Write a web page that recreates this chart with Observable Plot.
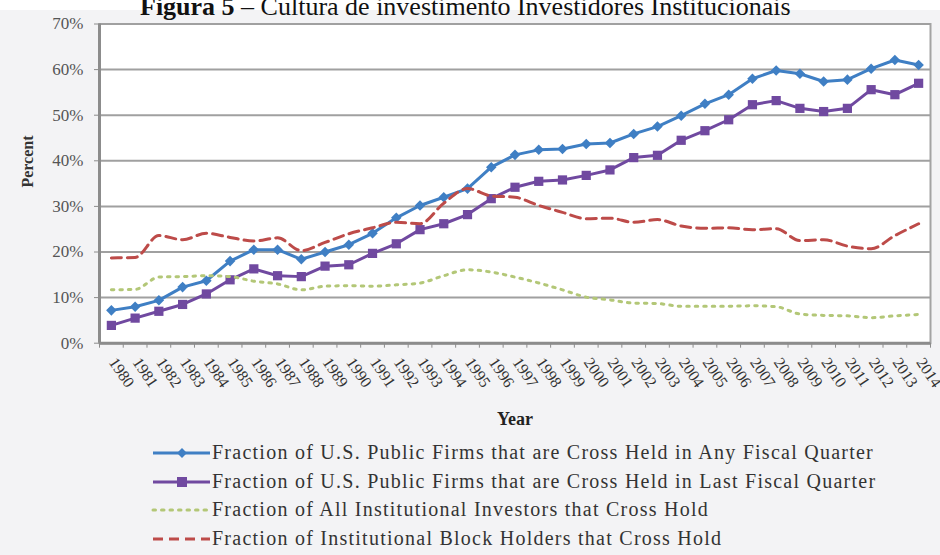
<!DOCTYPE html>
<html>
<head>
<meta charset="utf-8">
<script src="https://cdn.jsdelivr.net/npm/d3@7"></script>
<script src="https://cdn.jsdelivr.net/npm/@observablehq/plot@0.6"></script>
<style>
  html, body { margin: 0; padding: 0; }
  body { width: 940px; height: 555px; position: relative; overflow: hidden; background: #ffffff; font-family: "Liberation Serif", "Times New Roman", serif; }
  #bg { position: absolute; left: 0; top: 10px; width: 940px; height: 545px; background: #f3f3f5; }
  #title { position: absolute; left: 140px; top: -6px; font-size: 26px; line-height: 26px; color: #111; white-space: nowrap; }
  #chart { position: absolute; left: 0; top: 0; }
  #legend { position: absolute; left: 0; top: 439px; width: 940px; }
  .row { position: relative; height: 28.5px; }
  .row svg { position: absolute; left: 150px; top: 4px; }
  .row span { position: absolute; left: 212px; top: 1px; font-size: 20px; line-height: 24px; letter-spacing: 1.25px; color: #333; white-space: nowrap; }
</style>
</head>
<body>
<div id="bg"></div>
<div id="title"><b>Figura 5</b> – Cultura de investimento Investidores Institucionais</div>
<div id="chart"></div>
<div id="legend"></div>
<script>
// ---- Data (percent) ----
const years = [1980,1981,1982,1983,1984,1985,1986,1987,1988,1989,1990,1991,1992,1993,1994,1995,1996,1997,1998,1999,2000,2001,2002,2003,2004,2005,2006,2007,2008,2009,2010,2011,2012,2013,2014];
const anyQuarter = [7.2,8.0,9.4,12.3,13.7,18.0,20.5,20.5,18.4,20.0,21.6,24.1,27.5,30.2,32.0,33.9,38.6,41.3,42.4,42.6,43.7,43.9,45.9,47.5,49.9,52.5,54.5,58.0,59.8,59.1,57.4,57.8,60.2,62.1,61.0];
const lastQuarter = [3.9,5.5,7.0,8.5,10.8,13.9,16.3,14.8,14.6,16.9,17.2,19.7,21.8,24.9,26.2,28.2,31.7,34.2,35.5,35.8,36.8,38.0,40.7,41.2,44.5,46.6,49.0,52.3,53.2,51.5,50.8,51.5,55.6,54.5,57.0];
const allInvestors = [11.7,11.8,14.5,14.6,14.8,14.6,13.6,13.0,11.7,12.5,12.6,12.5,12.8,13.2,14.8,16.1,15.6,14.5,13.2,11.7,10.1,9.5,8.8,8.7,8.1,8.1,8.1,8.2,8.0,6.4,6.1,6.0,5.6,6.0,6.3];
const blockHolders = [18.7,18.8,23.6,22.7,24.1,23.2,22.4,23.1,20.3,22.1,24.0,25.3,26.5,26.2,30.7,33.9,32.3,32.0,30.2,28.7,27.3,27.4,26.5,27.1,25.7,25.2,25.3,24.9,25.1,22.5,22.7,21.3,20.7,23.6,26.2];
const yTicks = [0,10,20,30,40,50,60,70];
const seriesNames = [
  "Fraction of U.S. Public Firms that are Cross Held in Any Fiscal Quarter",
  "Fraction of U.S. Public Firms that are Cross Held in Last Fiscal Quarter",
  "Fraction of All Institutional Investors that Cross Hold",
  "Fraction of Institutional Block Holders that Cross Hold"
];
const colors = ["#3f7fc4", "#7049a0", "#b3c777", "#bd4b49"];

const toRows = (vals) => years.map((y, i) => ({year: y, v: vals[i]}));
const dAny = toRows(anyQuarter), dLast = toRows(lastQuarter), dAll = toRows(allInvestors), dBlock = toRows(blockHolders);
const bounds = [years[0] - 0.5, ...years.map(y => y + 0.5)];

const chart = Plot.plot({
  width: 940,
  height: 430,
  marginLeft: 99,
  marginRight: 10,
  marginTop: 23.5,
  marginBottom: 87.3,
  style: {background: "transparent", fontFamily: "Liberation Serif, Times New Roman, serif", fontSize: "17px", color: "#444"},
  x: {type: "linear", domain: [years[0] - 0.5, years[years.length - 1] + 0.5], axis: null},
  y: {domain: [0, 70], axis: null},
  marks: [
    Plot.frame({fill: "white", stroke: "#a3a3a3", strokeWidth: 2}),
    Plot.gridY(yTicks, {stroke: "#a0a0a0", strokeWidth: 2, strokeOpacity: 1}),
    Plot.ruleX([bounds[0]], {stroke: "#8c8c8c", strokeWidth: 3}),
    Plot.ruleY([0], {stroke: "#8c8c8c", strokeWidth: 3}),
    Plot.axisY({ticks: yTicks, label: null, tickSize: 5, tickPadding: 11, tickFormat: d => d + "%", stroke: "#8c8c8c", fill: "#555", fontSize: 17}),
    Plot.axisX({ticks: bounds, label: null, tickSize: 5, tickFormat: () => "", stroke: "#8c8c8c"}),
    Plot.text(years, {x: d => d, text: d => String(d), frameAnchor: "bottom", rotate: 56, textAnchor: "start", dx: -3, dy: 19, fontSize: 16, fill: "#333"}),
    Plot.text(["Year"], {frameAnchor: "bottom", dy: 82, fontSize: 18, fontWeight: "bold", fill: "#222"}),
    Plot.text(["Percent"], {frameAnchor: "left", rotate: -90, dx: -72, dy: 4, fontSize: 16, fontWeight: "bold", fill: "#333"}),
    // series
    Plot.line(dAny, {x: "year", y: "v", stroke: colors[0], strokeWidth: 3}),
    Plot.dot(dAny, {x: "year", y: "v", symbol: "square", r: 4.2, rotate: 45, fill: colors[0], stroke: "none"}),
    Plot.line(dLast, {x: "year", y: "v", stroke: colors[1], strokeWidth: 3}),
    Plot.dot(dLast, {x: "year", y: "v", symbol: "square", r: 5.2, fill: colors[1], stroke: "none"}),
    Plot.line(dAll, {x: "year", y: "v", stroke: colors[2], strokeWidth: 3, strokeDasharray: "2.5,6", strokeLinecap: "round", curve: "monotone-x"}),
    Plot.line(dBlock, {x: "year", y: "v", stroke: colors[3], strokeWidth: 3, strokeDasharray: "10,6", curve: "monotone-x"})
  ]
});
document.getElementById("chart").appendChild(chart);

// ---- Legend ----
const legend = document.getElementById("legend");
const ns = "http://www.w3.org/2000/svg";
seriesNames.forEach((name, i) => {
  const row = document.createElement("div");
  row.className = "row";
  const svg = document.createElementNS(ns, "svg");
  svg.setAttribute("width", "62");
  svg.setAttribute("height", "20");
  const line = document.createElementNS(ns, "line");
  line.setAttribute("x1", "3"); line.setAttribute("x2", "60");
  line.setAttribute("y1", "10"); line.setAttribute("y2", "10");
  line.setAttribute("stroke", colors[i]);
  line.setAttribute("stroke-width", "3");
  if (i === 2) { line.setAttribute("stroke-dasharray", "2.5,6"); line.setAttribute("stroke-linecap", "round"); }
  if (i === 3) { line.setAttribute("stroke-dasharray", "10,6"); }
  svg.appendChild(line);
  if (i === 0) {
    const m = document.createElementNS(ns, "rect");
    m.setAttribute("x", "-3.5"); m.setAttribute("y", "-3.5"); m.setAttribute("width", "7"); m.setAttribute("height", "7");
    m.setAttribute("transform", "translate(32,10) rotate(45)");
    m.setAttribute("fill", colors[0]);
    svg.appendChild(m);
  } else if (i === 1) {
    const m = document.createElementNS(ns, "rect");
    m.setAttribute("x", "27"); m.setAttribute("y", "5"); m.setAttribute("width", "10"); m.setAttribute("height", "10");
    m.setAttribute("fill", colors[1]);
    svg.appendChild(m);
  }
  row.appendChild(svg);
  const span = document.createElement("span");
  span.textContent = name;
  row.appendChild(span);
  legend.appendChild(row);
});
</script>
</body>
</html>
